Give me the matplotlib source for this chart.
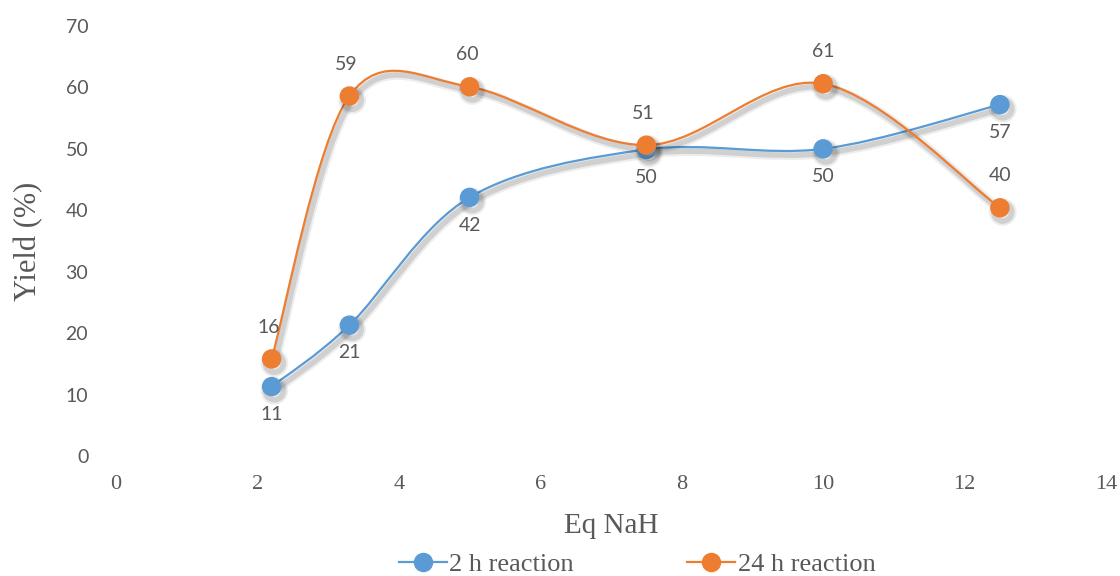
import numpy as np
import matplotlib.pyplot as plt
import matplotlib.patheffects as pe
from matplotlib.path import Path
from matplotlib.patches import PathPatch
from matplotlib.lines import Line2D

eq_nah = [2.2, 3.3, 5.0, 7.5, 10.0, 12.5]
yield_2h = [11.3, 21.3, 42.1, 49.9, 50.0, 57.2]
yield_24h = [15.8, 58.6, 60.1, 50.6, 60.6, 40.4]
series_names = ["2 h reaction", "24 h reaction"]

BLUE = "#5B9BD5"
ORANGE = "#ED7D31"
TEXT = "#595959"
SANS = ["Lato", "DejaVu Sans"]
SERIF = ["Liberation Serif", "DejaVu Serif"]

shadow = [pe.SimpleLineShadow(offset=(2, -3), shadow_color="k", alpha=0.07, linewidth=7),
          pe.SimpleLineShadow(offset=(2, -3), shadow_color="k", alpha=0.12, linewidth=4),
          pe.Normal()]


def smooth_path(x, y):
    """Cubic Bezier through the points, Catmull-Rom style control points."""
    pts = np.column_stack([x, y]).astype(float)
    n = len(pts)
    verts = [pts[0]]
    codes = [Path.MOVETO]
    for i in range(n - 1):
        p0 = pts[i - 1] if i > 0 else pts[i]
        p1, p2 = pts[i], pts[i + 1]
        p3 = pts[i + 2] if i + 2 < n else pts[i + 1]
        verts += [p1 + (p2 - p0) / 6.0, p2 - (p3 - p1) / 6.0, p2]
        codes += [Path.CURVE4] * 3
    return Path(verts, codes)


fig = plt.figure(figsize=(11.2, 5.76), dpi=100)
ax = fig.add_axes([0.1036, 0.2083, 0.8839, 0.7466])

for ys, color in [(yield_2h, BLUE), (yield_24h, ORANGE)]:
    patch = PathPatch(smooth_path(eq_nah, ys), facecolor="none", edgecolor=color, lw=1.6, zorder=2)
    patch.set_path_effects(shadow)
    ax.add_patch(patch)
    ax.plot(eq_nah, ys, ls="none", marker="o", ms=13, color=color, mec=color, zorder=3,
            path_effects=shadow)

# value labels: 2 h below the points, 24 h above
for x, y in zip(eq_nah, yield_2h):
    ax.annotate("{:.0f}".format(y), (x, y), xytext=(0, -20), textcoords="offset points",
                ha="center", va="center", fontsize=14, color=TEXT, family=SANS)
for x, y in zip(eq_nah, yield_24h):
    ax.annotate("{:.0f}".format(y), (x, y), xytext=(-2 if x < 8 else 0, 23), textcoords="offset points",
                ha="center", va="center", fontsize=14, color=TEXT, family=SANS)

ax.set_xlim(0, 14)
ax.set_ylim(0, 70)
ax.set_xticks(np.arange(0, 15, 2))
ax.set_yticks(np.arange(0, 71, 10))
for s in ax.spines.values():
    s.set_visible(False)
ax.tick_params(length=0, colors=TEXT)
ax.tick_params(axis="x", pad=14, labelsize=16)
ax.tick_params(axis="y", pad=20, labelsize=14)
for lbl in ax.get_xticklabels():
    lbl.set_family(SERIF)
for lbl in ax.get_yticklabels():
    lbl.set_family(SANS)

ax.set_xlabel("Eq NaH", family=SERIF, fontsize=21, color=TEXT, labelpad=13)
ax.set_ylabel("Yield (%)", family=SERIF, fontsize=22, color=TEXT, labelpad=16)

handles = [Line2D([], [], color=c, lw=1.6, marker="o", ms=13) for c in (BLUE, ORANGE)]
fig.legend(handles, series_names, loc="center", bbox_to_anchor=(0.569, 0.02), ncol=2,
           frameon=False, prop={"family": SERIF, "size": 19}, labelcolor=TEXT,
           handlelength=1.8, handletextpad=0.1, columnspacing=4.3)

fig.savefig("out.png", dpi=100)
